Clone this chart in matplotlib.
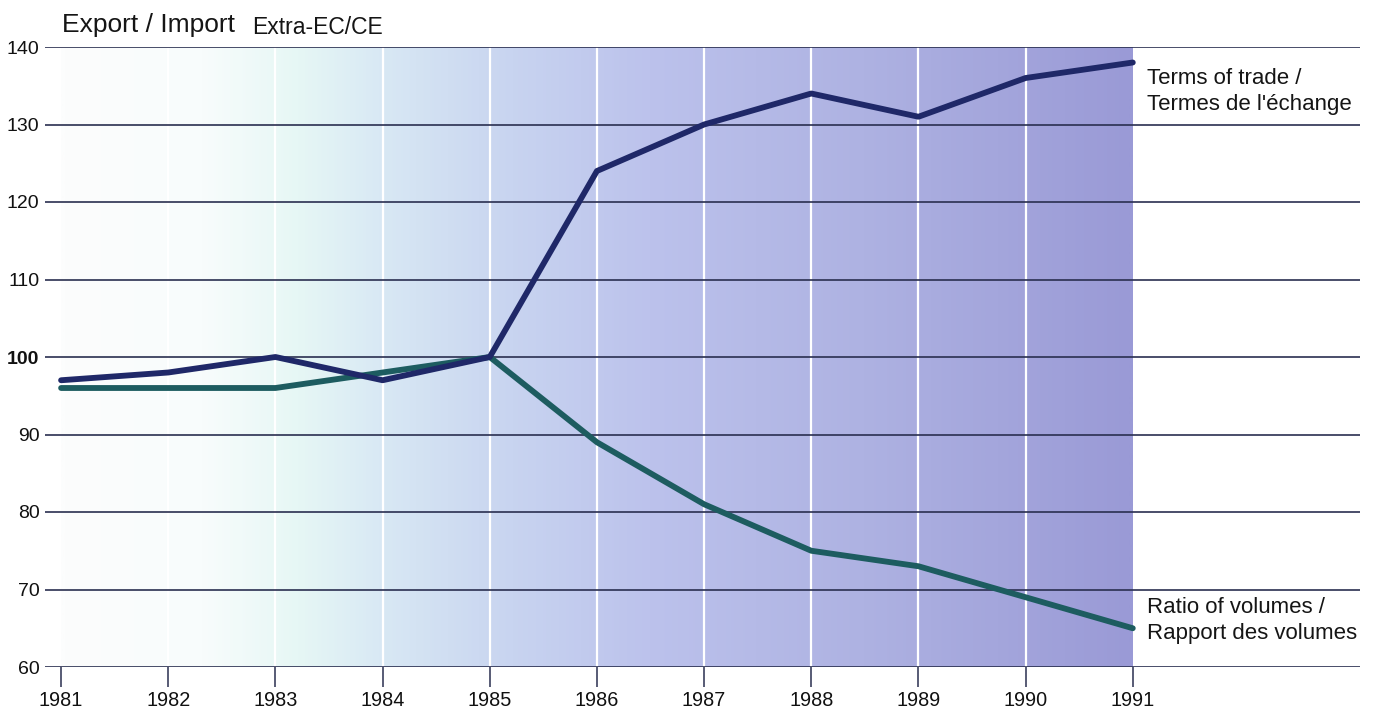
import numpy as np
import matplotlib
matplotlib.use('Agg')
import matplotlib.pyplot as plt
from matplotlib.colors import LinearSegmentedColormap

plt.rcParams['font.family'] = ['Liberation Sans', 'DejaVu Sans']

years = [1981, 1982, 1983, 1984, 1985, 1986, 1987, 1988, 1989, 1990, 1991]
terms_of_trade = [97, 98, 100, 97, 100, 124, 130, 134, 131, 136, 138]
ratio_volumes = [96, 96, 96, 98, 100, 89, 81, 75, 73, 69, 65]
y_ticks = [60, 70, 80, 90, 100, 110, 120, 130, 140]

ink = '#2a2f50'
navy = '#1f2868'
teal = '#1d5c60'

fig = plt.figure(figsize=(13.76, 7.13), dpi=100)
ax = fig.add_axes([45 / 1376, 46 / 713, 1315 / 1376, 620 / 713])

# background gradient behind the data region
bg = LinearSegmentedColormap.from_list('bg', [
    (0.0, '#fcfdfd'), (0.13, '#f8fcfc'), (0.22, '#e6f7f5'), (0.3, '#d8e8f4'),
    (0.42, '#c8d4f0'), (0.55, '#bcc2ec'), (0.75, '#aeb2e2'), (1.0, '#9a9ad6')])
grad = np.linspace(0, 1, 400).reshape(1, -1)
ax.imshow(grad, cmap=bg, extent=[years[0], years[-1], 60, 140],
          aspect='auto', zorder=0, interpolation='bilinear')

ax.vlines(years[1:-1], 60, 140, color='white', lw=1.6, zorder=1)
for v in y_ticks:
    ax.axhline(v, color=ink, lw=1.2, zorder=2)

ax.plot(years, ratio_volumes, color=teal, lw=4.2, solid_capstyle='round',
        solid_joinstyle='round', zorder=3)
ax.plot(years, terms_of_trade, color=navy, lw=4.2, solid_capstyle='round',
        solid_joinstyle='round', zorder=4)

ax.set_xlim(1980.85, 1993.12)
ax.set_ylim(60, 140)
for s in ax.spines.values():
    s.set_visible(False)

ax.set_yticks(y_ticks)
ax.set_yticklabels([str(v) for v in y_ticks])
ax.tick_params(axis='y', length=0, pad=4, labelsize=14, colors='#111111')
for lab in ax.get_yticklabels():
    if lab.get_text() == '100':
        lab.set_fontweight('bold')

ax.set_xticks(years)
ax.set_xticklabels([str(y) for y in years])
ax.tick_params(axis='x', direction='out', length=14.5, width=1.1, color=ink,
               pad=3, labelsize=14.3, labelcolor='#111111')

ax.text(1991.13, 134.3, "Terms of trade /\nTermes de l'échange", fontsize=16,
        va='center', ha='left', linespacing=1.3, color='#151515')
ax.text(1991.13, 66.0, "Ratio of volumes /\nRapport des volumes", fontsize=16,
        va='center', ha='left', linespacing=1.3, color='#151515')

fig.text(62 / 1376, 1 - 25 / 713, 'Export / Import', fontsize=19,
         va='center', ha='left', color='#151515')
fig.text(252 / 1376, 1 - 27 / 713, 'Extra-EC/CE', fontsize=16.5,
         va='center', ha='left', color='#151515')

fig.savefig('out.png', dpi=100)
